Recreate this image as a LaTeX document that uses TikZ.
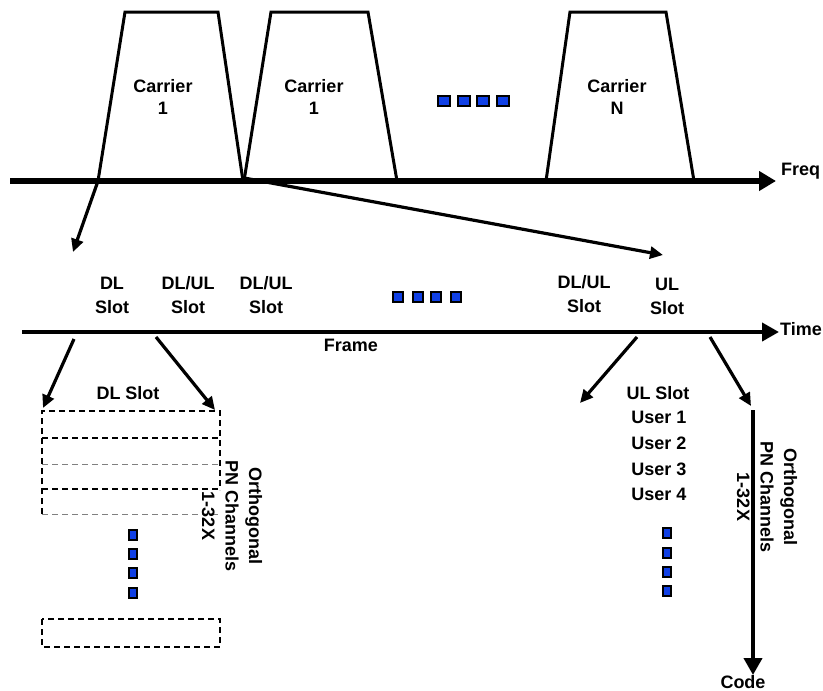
\documentclass[tikz,border=0pt]{standalone}
\usepackage{fontspec}
\setmainfont{Liberation Sans}
\usetikzlibrary{arrows.meta}
\definecolor{dotblue}{RGB}{16,64,230}
\begin{document}
\begin{tikzpicture}[x=1pt,y=-1pt,
  lbl/.style={font=\fontsize{18}{22}\selectfont\bfseries, align=center, inner sep=0pt},
  slotlbl/.style={lbl, font=\fontsize{18}{24}\selectfont\bfseries},
  rotlbl/.style={lbl, font=\fontsize{18}{23.5}\selectfont\bfseries, rotate=-90},
  trap/.style={line width=3pt, line join=miter},
  faxis/.style={line width=5.5pt, -{Triangle[length=17pt,width=19pt]}},
  taxis/.style={line width=4pt, -{Triangle[length=17pt,width=18pt]}},
  arr/.style={line width=3.2pt, -{Triangle[length=13pt,width=12pt]}},
  dotsq/.style={draw=black, line width=2.5pt, fill=dotblue, minimum width=#1, minimum height=10pt, inner sep=0pt},
  dotsq/.default=10pt,
  slotbox/.style={dash pattern=on 6pt off 4pt, line width=2.5pt},
  thinbox/.style={dash pattern=on 6pt off 4pt, line width=1pt, draw=gray}
]
\useasboundingbox (0,0) rectangle (823,691);

% ---------- Frequency axis and carriers ----------
\coordinate (fstart) at (10,181);
\coordinate (fend) at (776,181);
\draw[faxis] (fstart) -- (fend);
\node[lbl, anchor=west] (freq) at (781,171) {Freq};

\coordinate (c1bl) at (98,181);  \coordinate (c1tl) at (125,12);
\coordinate (c1tr) at (218,12);  \coordinate (c1br) at (243,181);
\draw[trap] (c1bl) -- (c1tl) -- (c1tr) -- (c1br);
\coordinate (c2bl) at (244,181); \coordinate (c2tl) at (271,12);
\coordinate (c2tr) at (368,12);  \coordinate (c2br) at (397,181);
\draw[trap] (c2bl) -- (c2tl) -- (c2tr) -- (c2br);
\coordinate (c3bl) at (546,181); \coordinate (c3tl) at (570,12);
\coordinate (c3tr) at (666,12);  \coordinate (c3br) at (694,181);
\draw[trap] (c3bl) -- (c3tl) -- (c3tr) -- (c3br);

\node[lbl] (car1) at (163,97) {Carrier\\1};
\node[lbl] (car2) at (314,97) {Carrier\\1};
\node[lbl] (carN) at (617,97) {Carrier\\N};

\node[dotsq=12pt] (fd1) at (444,101) {};
\node[dotsq=12pt] (fd2) at (464,101) {};
\node[dotsq=12pt] (fd3) at (483,101) {};
\node[dotsq=12pt] (fd4) at (503,101) {};

% arrows from the frequency axis
\coordinate (dlpt) at (73,252);
\coordinate (ulpt) at (663,255);
\draw[arr] (c1bl) -- (dlpt);
\draw[arr] ([yshift=3pt]c2bl) -- (ulpt);

% ---------- Time axis and slots ----------
\coordinate (tstart) at (22,332);
\coordinate (tend) at (779,332);
\draw[taxis] (tstart) -- (tend);
\node[lbl, anchor=west] (time) at (780,329) {Time};

\node[slotlbl] (s1) at (112,295) {DL\\Slot};
\node[slotlbl] (s2) at (188,295) {DL/UL\\Slot};
\node[slotlbl] (s3) at (266,295) {DL/UL\\Slot};
\node[slotlbl] (s4) at (584,294) {DL/UL\\Slot};
\node[slotlbl] (s5) at (667,296) {UL\\Slot};
\node[lbl] (frame) at (351,345) {Frame};

\node[dotsq] (td1) at (398,297) {};
\node[dotsq] (td2) at (418,297) {};
\node[dotsq] (td3) at (436,297) {};
\node[dotsq] (td4) at (456,297) {};

% arrows below the time axis
\coordinate (ta) at (74,339);   \coordinate (tae) at (43,408);
\coordinate (tb) at (156,337);  \coordinate (tbe) at (215,410);
\coordinate (tc) at (637,337);  \coordinate (tce) at (580,403);
\coordinate (td) at (710,337);  \coordinate (tde) at (751,406);
\draw[arr] (ta) -- (tae);
\draw[arr] (tb) -- (tbe);
\draw[arr] (tc) -- (tce);
\draw[arr] (td) -- (tde);

% ---------- DL slot detail ----------
\node[lbl] (dlslot) at (128,393) {DL Slot};
\draw[slotbox] (42,514) -- (42,411) -- (220,411) -- (220,490);
\draw[slotbox] (42,438) -- (220,438);
\draw[slotbox] (42,489) -- (220,489);
\draw[thinbox] (42,464) -- (220,464);
\draw[thinbox] (42,514) -- (220,514);
\draw[slotbox] (42,619) rectangle (220,647);

\node[dotsq=8pt] (ld1) at (133,535) {};
\node[dotsq=8pt] (ld2) at (133,554) {};
\node[dotsq=8pt] (ld3) at (133,573) {};
\node[dotsq=8pt] (ld4) at (133,593) {};

\node[rotlbl] (lrot) at (232,516) {Orthogonal\\PN Channels\\1-32X};

% ---------- UL slot detail ----------
\node[lbl] (ulslot) at (658,393) {UL Slot};
\node[lbl] (u1) at (659,417) {User 1};
\node[lbl] (u2) at (659,443) {User 2};
\node[lbl] (u3) at (659,469) {User 3};
\node[lbl] (u4) at (659,494) {User 4};

\node[dotsq=8pt] (rd1) at (667,533) {};
\node[dotsq=8pt] (rd2) at (667,553) {};
\node[dotsq=8pt] (rd3) at (667,572) {};
\node[dotsq=8pt] (rd4) at (667,591) {};

\coordinate (codetop) at (753,410);
\coordinate (codeend) at (753,675);
\draw[taxis] (codetop) -- (codeend);
\node[lbl] (code) at (743,682) {Code};
\node[rotlbl] (rrot) at (767,497) {Orthogonal\\PN Channels\\1-32X};
\end{tikzpicture}
\end{document}
